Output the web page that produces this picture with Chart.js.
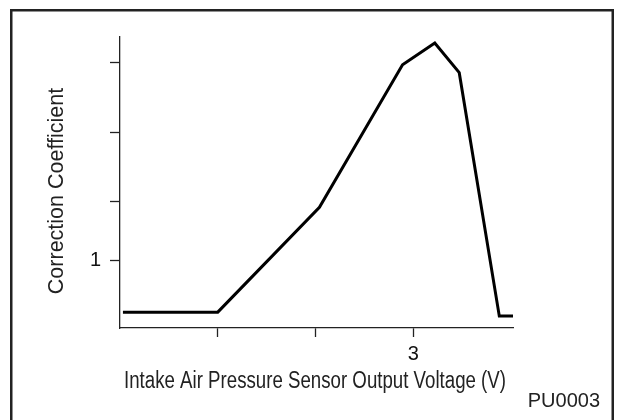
<!DOCTYPE html>
<html>
<head>
<meta charset="utf-8">
<script src="https://cdn.jsdelivr.net/npm/chart.js@4/dist/chart.umd.min.js"></script>
<style>
  html, body { margin: 0; padding: 0; background: #fff; }
  #wrap { width: 619px; height: 420px; }
</style>
</head>
<body>
<div id="wrap"><canvas id="c" width="619" height="420"></canvas></div>
<script>
// Data
const voltage = [0.03, 1.0, 2.04, 2.89, 3.22, 3.47, 3.88, 4.02];
const coefficient = [0.74, 0.74, 1.27, 1.99, 2.10, 1.95, 0.72, 0.72];
const xTickValues = [1, 2, 3];
const xTickLabels = ['', '', '3'];
const yTickValues = [1, 1.3, 1.65, 2.0];
const yTickLabels = ['1', '', '', ''];
const xTitle = 'Intake Air Pressure Sensor Output Voltage (V)';
const yTitle = 'Correction Coefficient';
const figureCode = 'PU0003';

const points = voltage.map((v, i) => ({ x: v, y: coefficient[i] }));

const decor = {
  id: 'decor',
  afterDraw(chart) {
    const ctx = chart.ctx;
    ctx.save();
    // frame
    ctx.strokeStyle = '#222';
    ctx.lineWidth = 2.5;
    ctx.strokeRect(11.25, 10.25, 601.5, 440);
    // x title (condensed to the reference width)
    ctx.fillStyle = '#222';
    ctx.font = '23px "Liberation Sans Narrow", "Liberation Sans", Arial, sans-serif';
    ctx.textAlign = 'center';
    ctx.textBaseline = 'alphabetic';
    ctx.fillText(xTitle, 315, 388, 382);
    ctx.restore();
    ctx.save();
    // y title
    ctx.fillStyle = '#222';
    ctx.font = '21.5px "Liberation Sans", Arial, sans-serif';
    ctx.textAlign = 'center';
    ctx.textBaseline = 'middle';
    ctx.translate(57, 191);
    ctx.rotate(-Math.PI / 2);
    ctx.fillText(yTitle, 0, 0);
    ctx.restore();
    ctx.save();
    ctx.fillStyle = '#222';
    ctx.font = '20px "Liberation Sans", Arial, sans-serif';
    ctx.textAlign = 'right';
    ctx.textBaseline = 'alphabetic';
    ctx.fillText(figureCode, 600, 407);
    ctx.restore();
  }
};

new Chart(document.getElementById('c'), {
  type: 'scatter',
  data: {
    datasets: [{
      data: points,
      showLine: true,
      borderColor: '#000',
      borderWidth: 3,
      borderJoinStyle: 'miter',
      pointRadius: 0,
      pointHoverRadius: 0,
      tension: 0,
      fill: false
    }]
  },
  options: {
    responsive: false,
    animation: false,
    events: [],
    layout: { padding: { top: 37, right: 106, left: 0, bottom: 0 } },
    plugins: { legend: { display: false }, tooltip: { enabled: false } },
    scales: {
      x: {
        type: 'linear',
        min: 0,
        max: 4.02,
        afterFit(scale) { scale.height = 92; },
        afterBuildTicks(scale) { scale.ticks = xTickValues.map(v => ({ value: v })); },
        grid: { drawOnChartArea: false, drawTicks: true, tickLength: 9, tickColor: '#222', tickWidth: 1.3 },
        border: { display: true, color: '#222', width: 1.3 },
        ticks: {
          autoSkip: false,
          maxRotation: 0,
          padding: 5,
          color: '#111',
          font: { family: '"Liberation Sans", Arial, sans-serif', size: 20 },
          callback: (v) => { const i = xTickValues.indexOf(v); return i >= 0 ? xTickLabels[i] : ''; }
        }
      },
      y: {
        type: 'linear',
        min: 0.66,
        max: 2.13,
        afterFit(scale) { scale.width = 120; },
        afterBuildTicks(scale) { scale.ticks = yTickValues.map(v => ({ value: v })); },
        grid: { drawOnChartArea: false, drawTicks: true, tickLength: 10, tickColor: '#222', tickWidth: 1.3 },
        border: { display: true, color: '#222', width: 1.3 },
        ticks: {
          autoSkip: false,
          padding: 9,
          color: '#111',
          font: { family: '"Liberation Sans", Arial, sans-serif', size: 20 },
          callback: (v) => { const i = yTickValues.indexOf(v); return i >= 0 ? yTickLabels[i] : ''; }
        }
      }
    }
  },
  plugins: [decor]
});
</script>
</body>
</html>
